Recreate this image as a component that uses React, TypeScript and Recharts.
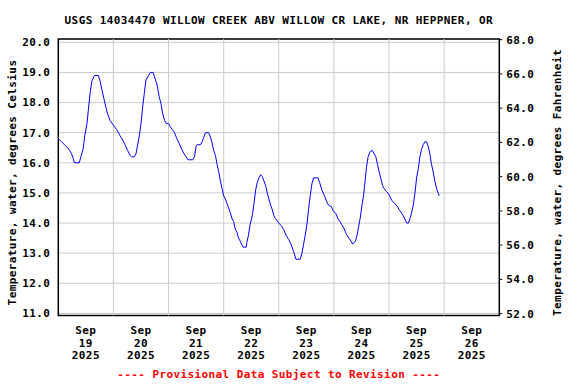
import React from "react";
import {
  LineChart,
  Line,
  XAxis,
  YAxis,
  CartesianGrid,
  ReferenceLine,
  ReferenceArea,
} from "recharts";

// time in days since Sep 19 2025 00:00, water temperature in deg C
const days = [
  0, 0.06, 0.11, 0.17, 0.21, 0.24, 0.27, 0.29, 0.38, 0.41, 0.45, 0.48, 0.52, 0.545, 0.576, 0.606, 0.655, 0.727,
  0.76, 0.8, 0.85, 0.89, 0.94, 1.0, 1.06, 1.12, 1.17, 1.21, 1.26, 1.3, 1.33, 1.38, 1.41, 1.44, 1.47, 1.5, 1.53,
  1.56, 1.59, 1.64, 1.67, 1.72, 1.745, 1.79, 1.83, 1.87, 1.89, 1.93, 1.96, 2.0, 2.03, 2.07, 2.11, 2.15, 2.19,
  2.24, 2.28, 2.32, 2.35, 2.44, 2.47, 2.5, 2.52, 2.58, 2.61, 2.64, 2.67, 2.73, 2.76, 2.79, 2.82, 2.85, 2.88,
  2.91, 2.94, 2.97, 3.0, 3.03, 3.06, 3.09, 3.12, 3.15, 3.18, 3.21, 3.24, 3.27, 3.3, 3.35, 3.41, 3.42, 3.45, 3.48,
  3.52, 3.55, 3.58, 3.61, 3.64, 3.67, 3.7, 3.73, 3.76, 3.79, 3.82, 3.85, 3.88, 3.91, 3.94, 4.0, 4.05, 4.09, 4.13,
  4.18, 4.22, 4.27, 4.31, 4.39, 4.42, 4.45, 4.48, 4.51, 4.54, 4.57, 4.6, 4.63, 4.71, 4.74, 4.78, 4.83, 4.87, 4.9,
  4.95, 4.99, 5.04, 5.07, 5.11, 5.14, 5.19, 5.22, 5.27, 5.31, 5.34, 5.39, 5.42, 5.45, 5.48, 5.51, 5.54, 5.56,
  5.59, 5.62, 5.65, 5.67, 5.7, 5.73, 5.76, 5.79, 5.82, 5.85, 5.88, 5.91, 5.95, 5.98, 6.01, 6.05, 6.1, 6.15, 6.18,
  6.22, 6.27, 6.32, 6.35, 6.38, 6.41, 6.44, 6.47, 6.5, 6.53, 6.56, 6.59, 6.62, 6.65, 6.68, 6.71, 6.74, 6.77, 6.8,
  6.83, 6.86, 6.89, 6.91,
];
const tempC = [
  16.8, 16.7, 16.6, 16.5, 16.4, 16.3, 16.15, 16.0, 16.0, 16.2, 16.45, 16.9, 17.3, 17.75, 18.3, 18.7, 18.9, 18.9,
  18.7, 18.35, 17.95, 17.65, 17.4, 17.25, 17.1, 16.9, 16.75, 16.6, 16.4, 16.25, 16.2, 16.2, 16.3, 16.6, 16.9, 17.3,
  17.85, 18.3, 18.75, 18.9, 19.0, 19.0, 18.85, 18.6, 18.2, 17.9, 17.65, 17.4, 17.3, 17.3, 17.2, 17.1, 17.0, 16.8,
  16.65, 16.45, 16.3, 16.2, 16.1, 16.1, 16.2, 16.55, 16.6, 16.6, 16.7, 16.85, 17.0, 17.0, 16.85, 16.65, 16.4,
  16.25, 15.95, 15.7, 15.4, 15.15, 14.9, 14.8, 14.65, 14.5, 14.35, 14.15, 14.05, 13.8, 13.7, 13.5, 13.4, 13.2,
  13.2, 13.35, 13.6, 13.95, 14.25, 14.65, 15.1, 15.35, 15.5, 15.6, 15.55, 15.4, 15.25, 15.0, 14.8, 14.6, 14.45,
  14.25, 14.15, 14.0, 13.9, 13.78, 13.6, 13.45, 13.3, 13.05, 12.8, 12.8, 13.0, 13.3, 13.6, 13.95, 14.45, 14.9,
  15.3, 15.5, 15.5, 15.35, 15.1, 14.9, 14.7, 14.6, 14.55, 14.4, 14.3, 14.15, 14.05, 13.95, 13.8, 13.65, 13.5,
  13.4, 13.3, 13.4, 13.6, 13.9, 14.2, 14.6, 14.95, 15.3, 15.85, 16.2, 16.35, 16.4, 16.4, 16.3, 16.2, 15.95, 15.7,
  15.5, 15.25, 15.15, 15.05, 15.0, 14.9, 14.75, 14.65, 14.55, 14.45, 14.35, 14.2, 14.0, 14.0, 14.15, 14.35, 14.6,
  15.0, 15.5, 15.8, 16.2, 16.45, 16.6, 16.7, 16.7, 16.55, 16.3, 15.95, 15.7, 15.4, 15.15, 15.0, 14.9,
];

const dayLabels = ["19", "20", "21", "22", "23", "24", "25", "26"];
const dayTicks = [0.5, 1.5, 2.5, 3.5, 4.5, 5.5, 6.5, 7.5];
const midnights = [1, 2, 3, 4, 5, 6, 7];
const celsiusTicks = [11, 12, 13, 14, 15, 16, 17, 18, 19, 20];
const fahrenheitTicks = [52, 54, 56, 58, 60, 62, 64, 66, 68];

const TITLE = "USGS 14034470 WILLOW CREEK ABV WILLOW CR LAKE, NR HEPPNER, OR";
const LEFT_LABEL = "Temperature, water, degrees Celsius";
const RIGHT_LABEL = "Temperature, water, degrees Fahrenheit";
const NOTE = "---- Provisional Data Subject to Revision ----";

const C_DOMAIN: [number, number] = [10.93, 20.11];
const F_DOMAIN: [number, number] = [51.89, 68.04];

const data = days.map((d, i) => ({ t: d, temp: tempC[i] }));

const FONT = "'DejaVu Sans Mono', monospace";
const tickStyle = { fill: "#000", fontSize: 11, fontWeight: 700, fontFamily: FONT, letterSpacing: 0.4 };

function DateTick({ x, y, payload }: any) {
  const label = dayLabels[Math.round(payload.value - 0.5)];
  return (
    <text x={x} y={y} textAnchor="middle" {...tickStyle}>
      <tspan x={x} dy={18.5}>Sep</tspan>
      <tspan x={x} dy={12.7}>{label}</tspan>
      <tspan x={x} dy={12.6}>2025</tspan>
    </text>
  );
}

export default function App() {
  return (
    <div style={{ position: "absolute", left: 0, top: 0, width: 576, height: 384, background: "#fff" }}>
      <LineChart width={576} height={384} data={data} margin={{ top: 39, right: 0, bottom: 0, left: 0 }}>
        <CartesianGrid yAxisId="c" vertical={false} stroke="#cccccc" />
        <XAxis
          dataKey="t"
          type="number"
          domain={[0, 8]}
          ticks={dayTicks}
          allowDataOverflow
          height={68.5}
          tickSize={0}
          tickMargin={0}
          axisLine={false}
          tickLine={false}
          tick={<DateTick />}
        />
        <YAxis
          yAxisId="c"
          orientation="left"
          type="number"
          domain={C_DOMAIN}
          ticks={celsiusTicks}
          allowDataOverflow
          width={58.3}
          axisLine={false}
          tickLine={false}
          tickSize={0}
          tickMargin={8}
          tickFormatter={(v) => Number(v).toFixed(1)}
          tick={tickStyle}
        />
        <YAxis
          yAxisId="f"
          orientation="right"
          type="number"
          domain={F_DOMAIN}
          ticks={fahrenheitTicks}
          allowDataOverflow
          width={76.7}
          axisLine={false}
          tickLine={{ stroke: "#000" }}
          tickSize={3}
          tickMargin={4}
          tickFormatter={(v) => Number(v).toFixed(1)}
          tick={tickStyle}
        />
        {midnights.map((d) => (
          <ReferenceLine key={d} x={d} yAxisId="c" stroke="#cccccc" />
        ))}
        <Line
          yAxisId="c"
          dataKey="temp"
          type="linear"
          stroke="#0000ff"
          strokeWidth={1}
          dot={false}
          isAnimationActive={false}
        />
        <ReferenceArea
          yAxisId="c"
          x1={0}
          x2={8}
          y1={C_DOMAIN[0]}
          y2={C_DOMAIN[1]}
          fill="none"
          fillOpacity={0}
          stroke="#000"
          strokeWidth={1.5}
          strokeOpacity={1}
        />
      </LineChart>
      <svg
        width={576}
        height={384}
        style={{ position: "absolute", left: 0, top: 0, pointerEvents: "none" }}
      >
        <text x={278.8} y={24} textAnchor="middle" {...tickStyle}>
          {TITLE}
        </text>
        <text x={15.5} y={182.5} textAnchor="middle" transform="rotate(-90 15.5 182.5)" {...tickStyle}>
          {LEFT_LABEL}
        </text>
        <text x={560.5} y={182.5} textAnchor="middle" transform="rotate(-90 560.5 182.5)" {...tickStyle}>
          {RIGHT_LABEL}
        </text>
        <text x={278.8} y={378} textAnchor="middle" {...tickStyle} fill="#ff0000">
          {NOTE}
        </text>
      </svg>
    </div>
  );
}
